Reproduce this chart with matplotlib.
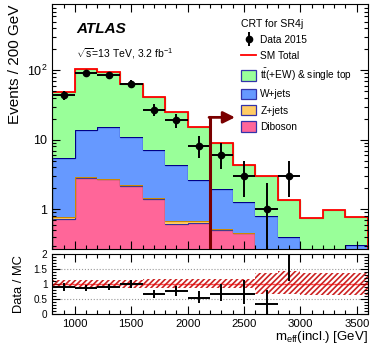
import matplotlib
matplotlib.use('Agg')
import matplotlib.pyplot as plt
import numpy as np
from matplotlib.lines import Line2D
from matplotlib.patches import Patch
from matplotlib.legend_handler import HandlerTuple

plt.rcParams['font.family'] = ['Liberation Sans', 'DejaVu Sans']
plt.rcParams['mathtext.fontset'] = 'custom'
plt.rcParams['mathtext.rm'] = 'Liberation Sans'
plt.rcParams['mathtext.it'] = 'Liberation Sans:italic'
plt.rcParams['mathtext.bf'] = 'Liberation Sans:bold'
plt.rcParams['mathtext.default'] = 'regular'
plt.rcParams['hatch.linewidth'] = 1.2

# 200 GeV bins in m_eff
edges = np.arange(800, 3601, 200)
centers = edges[:-1] + 100

# stacked backgrounds (events / bin)
diboson = [0.72, 2.80, 2.70, 2.16, 1.39, 0.62, 0.64, 0.50, 0.45, 0.12, 0.06, 0.05, 0.05, 0.05]
zjets = [0.04, 0.12, 0.06, 0.05, 0.04, 0.05, 0.03, 0.01, 0.01, 0.01, 0.01, 0.01, 0.01, 0.01]
wjets = [4.64, 10.9, 12.3, 8.9, 5.7, 3.6, 2.0, 1.43, 0.79, 0.67, 0.33, 0.14, 0.14, 0.24]
ttbar = [43.6, 89.2, 79.9, 52.9, 33.9, 20.6, 12.4, 7.0, 3.15, 2.2, 0.96, 0.54, 0.78, 0.48]

# relative MC uncertainty (ratio band)
unc_up = [0.13, 0.13, 0.13, 0.13, 0.15, 0.15, 0.15, 0.15, 0.15, 0.38, 0.42, 0.37, 0.37, 0.37]
unc_dn = [0.12, 0.12, 0.12, 0.12, 0.14, 0.14, 0.14, 0.14, 0.14, 0.32, 0.34, 0.37, 0.37, 0.37]

# data 2015 (first 11 bins have entries)
data = [44, 90, 85, 64, 27, 19, 8, 6, 3, 1, 3]
data_hi = [6.6, 9.5, 9.2, 8.0, 5.2, 4.4, 3.3, 2.9, 2.0, 1.4, 2.0]
data_lo = [6.6, 9.5, 9.2, 8.0, 5.2, 4.4, 2.6, 2.2, 1.5, 1.0, 1.5]

cut = 2200
arrow_y = 21

c_tt = '#99ff99'
c_w = '#6699ff'
c_z = '#ffcc66'
c_db = '#ff6699'
c_cut = '#7a0000'

fig = plt.figure(figsize=(3.74, 3.46), dpi=100)
ax = fig.add_axes([0.140, 0.2795, 0.844, 0.7075])
rx = fig.add_axes([0.140, 0.0925, 0.844, 0.1735], sharex=ax)

ymin, ymax = 0.265, 885
low = 1e-3

layers = [(diboson, c_db, '#333399'), (zjets, c_z, '#cc8800'),
          (wjets, c_w, '#000088'), (ttbar, c_tt, '#66cc66')]
base = np.full(len(edges) - 1, low)
for vals, col, ec in layers:
    top = base + np.array(vals)
    ax.stairs(top, edges, baseline=base, fill=True, color=col, lw=0)
    ax.stairs(top, edges, color=ec, lw=0.9)
    base = top
total = base

ax.stairs(total, edges, color='red', lw=1.3)

nd = len(data)
ax.errorbar(centers[:nd], data, xerr=100, yerr=[data_lo, data_hi], fmt='o',
            color='black', ms=4.5, lw=1.4, capsize=0, zorder=5)

# cut arrow
ax.plot([cut, cut], [ymin, arrow_y], color=c_cut, lw=2.2, zorder=6)
ax.annotate('', xy=(cut + 220, arrow_y), xytext=(cut - 10, arrow_y),
            arrowprops=dict(arrowstyle='-|>,head_length=0.7,head_width=0.35',
                            color=c_cut, lw=2.0, shrinkA=0, shrinkB=0), zorder=6)

ax.set_yscale('log')
ax.set_ylim(ymin, ymax)
ax.set_xlim(800, 3600)
ax.set_yticks([1, 10, 100])
ax.set_yticklabels(['1', '10', '10$^{2}$'])
ax.set_ylabel('Events / 200 GeV', fontsize=11, loc='top', labelpad=4)
ax.tick_params(labelbottom=False)

for a in (ax, rx):
    a.tick_params(which='both', direction='in', top=True, right=True)
    a.tick_params(which='major', length=6, width=0.8)
    a.tick_params(which='minor', length=3, width=0.8)
ax.tick_params(axis='y', labelsize=9)
ax.xaxis.set_major_locator(plt.MultipleLocator(500))
ax.xaxis.set_minor_locator(plt.MultipleLocator(100))

ax.text(0.075, 0.9, 'ATLAS', transform=ax.transAxes, fontsize=11,
        fontweight='bold', fontstyle='italic', va='center')
ax.text(0.075, 0.80, r'$\sqrt{s}$=13 TeV, 3.2 fb$^{-1}$', transform=ax.transAxes,
        fontsize=7.5, va='center')

h_data = (Line2D([], [], color='black', marker='|', ms=10, mew=1.4, ls='none'),
          Line2D([], [], color='black', marker='o', ms=4.5, ls='none'))
handles = [h_data,
           Line2D([], [], color='red', lw=1.3),
           Patch(facecolor=c_tt, edgecolor='#3333aa', lw=0.9),
           Patch(facecolor=c_w, edgecolor='#3333aa', lw=0.9),
           Patch(facecolor=c_z, edgecolor='#3333aa', lw=0.9),
           Patch(facecolor=c_db, edgecolor='#3333aa', lw=0.9)]
labels = ['Data 2015', 'SM Total', r't$\bar{\rm t}$(+EW) & single top',
          'W+jets', 'Z+jets', 'Diboson']
leg = ax.legend(handles, labels, loc='upper left', bbox_to_anchor=(0.598, 0.942),
                frameon=False, fontsize=7.3, title='CRT for SR4j', title_fontsize=7.6,
                alignment='left', handlelength=1.5, handleheight=1.2,
                handletextpad=0.4, labelspacing=0.56, borderpad=0, borderaxespad=0,
                handler_map={tuple: HandlerTuple(ndivide=1)})

# ratio panel
ratio = np.array(data) / total[:nd]
r_hi = np.array(data_hi) / total[:nd]
r_lo = np.array(data_lo) / total[:nd]
rx.stairs(1 + np.array(unc_up), edges, baseline=1 - np.array(unc_dn), fill=True,
          facecolor='none', edgecolor='#cc2222', hatch='//////', lw=0)
rx.axhline(1, color='red', lw=1.0, alpha=0.6)
for yv in (0.5, 1, 1.5):
    rx.axhline(yv, color='#999999', lw=0.8, ls=':', zorder=0)
rx.errorbar(centers[:nd], ratio, xerr=100, yerr=[r_lo, r_hi], fmt='none',
            color='black', lw=1.4, capsize=0, zorder=5)
rx.set_ylim(0, 2)
rx.set_yticks([0, 0.5, 1, 1.5, 2])
rx.set_yticklabels(['0', '0.5', '1', '1.5', '2'])
rx.yaxis.set_minor_locator(plt.MultipleLocator(0.1))
rx.tick_params(axis='y', labelsize=7.2)
rx.tick_params(axis='x', labelsize=8.2)
rx.set_ylabel('Data / MC', fontsize=9.3, labelpad=6)
rx.set_xlabel(r'm$_{\rm eff}$(incl.) [GeV]', fontsize=9.5, loc='right')

fig.align_ylabels([ax, rx])
rx.xaxis.set_label_coords(1.0, -0.255)
fig.savefig('out.png', dpi=100)
